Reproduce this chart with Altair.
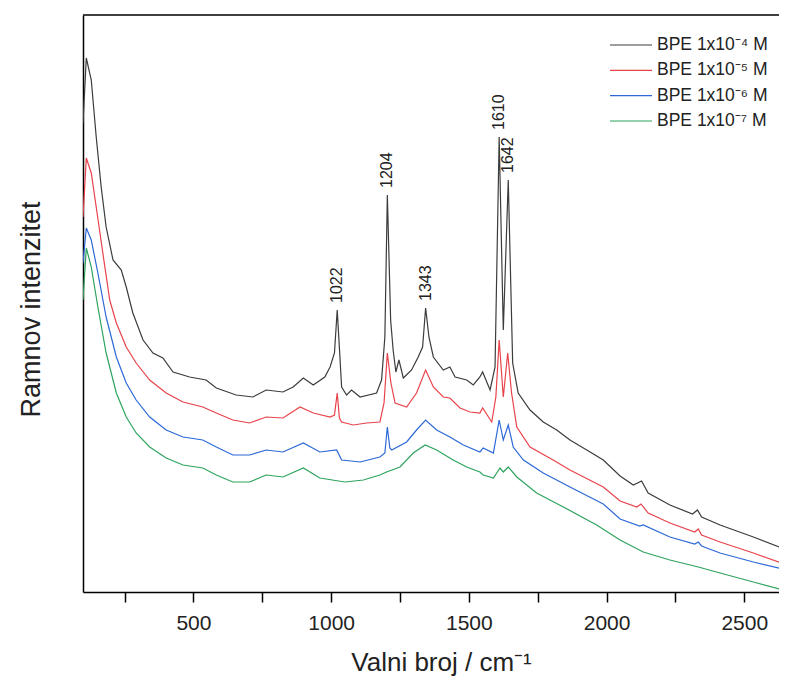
import altair as alt
import pandas as pd

FONT = "Liberation Sans, Arial, Helvetica, sans-serif"

series_names = ["BPE 1x10⁻⁴ M", "BPE 1x10⁻⁵ M", "BPE 1x10⁻⁶ M", "BPE 1x10⁻⁷ M"]
series_colors = ["#3c3c3c", "#e8434a", "#2c69d6", "#2ea35e"]

# wavenumber (cm^-1) and relative Raman intensity
black_wn = [99, 111, 129, 147, 165, 183, 208, 238, 256, 280, 317, 353, 389, 426, 486, 546, 583, 655,
            716, 764, 825, 862, 899, 935, 977, 996, 1012, 1022, 1031, 1038, 1056, 1074, 1105, 1165,
            1183, 1195, 1204, 1216, 1225, 1235, 1246, 1262, 1292, 1316, 1332, 1343, 1355, 1371, 1407,
            1431, 1450, 1492, 1516, 1540, 1550, 1577, 1595, 1610, 1625, 1643, 1659, 1679, 1722, 1770,
            1819, 1867, 1928, 1988, 2049, 2097, 2127, 2151, 2230, 2312, 2330, 2345, 2412, 2533, 2655]
black_I = [470, 535, 513, 456, 406, 366, 333, 323, 306, 280, 253, 240, 235, 221, 216, 213, 205, 198,
           196, 203, 201, 206, 215, 208, 216, 226, 240, 283, 240, 206, 198, 203, 196, 200,
           213, 256, 398, 273, 243, 221, 233, 215, 223, 236, 246, 285, 256, 236, 223,
           226, 216, 213, 208, 216, 221, 203, 226, 456, 263, 413, 230, 200, 183, 171,
           163, 153, 143, 133, 117, 108, 112, 100, 88, 79, 83, 76, 68, 56, 43]

red_wn = [99, 111, 129, 147, 171, 196, 220, 256, 292, 341, 401, 462, 534, 583, 643, 704, 764, 825,
          887, 935, 996, 1012, 1022, 1030, 1038, 1080, 1129, 1177, 1192, 1204, 1217, 1232, 1274, 1310,
          1343, 1371, 1407, 1431, 1468, 1504, 1540, 1550, 1583, 1598, 1610, 1625, 1641, 1655, 1674,
          1722, 1806, 1867, 1988, 2049, 2110, 2125, 2151, 2230, 2320, 2333, 2345, 2412, 2533, 2655]
red_I = [376, 435, 420, 386, 340, 293, 270, 246, 230, 213, 200, 191, 186, 180, 173, 170, 176, 175,
         186, 180, 176, 178, 200, 175, 171, 168, 170, 171, 190, 240, 210, 190, 186, 200,
         223, 206, 196, 195, 185, 181, 180, 185, 171, 196, 253, 196, 240, 200, 166,
         146, 133, 123, 106, 92, 86, 89, 80, 70, 61, 64, 58, 51, 40, 28]

blue_wn = [99, 111, 129, 153, 183, 220, 256, 292, 341, 401, 462, 534, 583, 643, 704, 764, 825, 899,
           959, 1020, 1038, 1105, 1177, 1195, 1204, 1213, 1220, 1274, 1310, 1343, 1383, 1431, 1480,
           1540, 1552, 1589, 1610, 1625, 1643, 1661, 1698, 1770, 1867, 1988, 2049, 2120, 2133, 2230,
           2320, 2333, 2345, 2412, 2533, 2655]
blue_I = [330, 365, 353, 320, 276, 236, 210, 193, 176, 163, 156, 153, 146, 138, 138, 143, 141, 150,
          141, 143, 133, 131, 136, 140, 166, 145, 143, 151, 163, 173, 163, 156, 148,
          141, 145, 140, 173, 153, 168, 146, 133, 120, 106, 89, 74, 67, 68, 56,
          49, 51, 47, 40, 31, 23]

green_wn = [99, 111, 129, 153, 183, 220, 256, 292, 341, 401, 462, 534, 583, 643, 704, 764, 825, 899,
            959, 1050, 1117, 1177, 1201, 1250, 1298, 1341, 1383, 1443, 1492, 1540, 1552, 1589, 1613,
            1625, 1643, 1674, 1746, 1843, 1964, 2049, 2133, 2230, 2333, 2412, 2533, 2655]
green_I = [293, 345, 326, 286, 240, 200, 176, 160, 146, 135, 128, 125, 118, 111, 111, 118, 116, 125,
           115, 111, 113, 118, 121, 126, 140, 148, 143, 133, 126, 121, 118, 115, 125,
           121, 126, 116, 100, 86, 68, 53, 41, 33, 26, 20, 11, 2]

peak_wn = [1022, 1204, 1343, 1610, 1642]
peak_I = [283, 398, 285, 456, 413]
peak_labels = ["1022", "1204", "1343", "1610", "1642"]

x_ticks = [250, 500, 750, 1000, 1250, 1500, 1750, 2000, 2250, 2500]

rows = []
for name, wn, inten in zip(series_names, [black_wn, red_wn, blue_wn, green_wn],
                           [black_I, red_I, blue_I, green_I]):
    for w, v in zip(wn, inten):
        rows.append({"series": name, "wn": w, "I": v})
df = pd.DataFrame(rows)

peaks = pd.DataFrame({"wn": peak_wn, "I": peak_I, "label": peak_labels})
leg = pd.DataFrame({"series": series_names})
frame = pd.DataFrame({"k": [0]})

W, H = 696, 577

x_scale = alt.Scale(domain=[99, 2626], nice=False, zero=False)
y_scale = alt.Scale(domain=[1, 578], nice=False, zero=False)
color_scale = alt.Scale(domain=series_names, range=series_colors)

x_axis = alt.Axis(
    values=x_ticks, format="d",
    labelExpr="datum.value % 500 === 0 ? datum.label : ''",
    tickSize=10, tickWidth=1.5, tickColor="black",
    domainColor="black", domainWidth=1.5, grid=False,
    labelFont=FONT, labelFontSize=21, labelColor="#222", labelPadding=10,
    title="Valni broj / cm⁻¹", titleFont=FONT, titleFontSize=26,
    titleFontWeight="normal", titleColor="#222", titlePadding=16, titleX=358)
y_axis = alt.Axis(
    labels=False, ticks=False, grid=False,
    domainColor="black", domainWidth=1.5,
    title="Ramnov intenzitet", titleFont=FONT, titleFontSize=27,
    titleFontWeight="normal", titleColor="#222", titlePadding=38, titleY=294)

x_enc = alt.X("wn:Q", scale=x_scale, axis=x_axis)

lines = alt.Chart(df).mark_line(strokeWidth=1.2, clip=True).encode(
    x=x_enc,
    y=alt.Y("I:Q", scale=y_scale, axis=y_axis),
    color=alt.Color("series:N", scale=color_scale, legend=None),
    order=alt.Order("wn:Q"),
)

peak_text = alt.Chart(peaks).mark_text(
    angle=270, align="left", baseline="middle", dx=7,
    font=FONT, fontSize=16, color="#222"
).encode(
    x=x_enc,
    y=alt.Y("I:Q", scale=y_scale, axis=None),
    text="label:N",
)

top_border = alt.Chart(frame).mark_rule(color="black", strokeWidth=1.5).encode(
    x=alt.value(0), x2=alt.value(W), y=alt.value(0)
)

leg_y = alt.Y("series:N", scale=alt.Scale(type="point", domain=series_names,
                                          range=[30, 106], padding=0), axis=None)

leg_rule = alt.Chart(leg).mark_rule(strokeWidth=1.2).encode(
    x=alt.value(527), x2=alt.value(569), y=leg_y,
    color=alt.Color("series:N", scale=color_scale, legend=None),
)

leg_text = alt.Chart(leg).mark_text(
    align="left", baseline="middle", font=FONT, fontSize=17.5, color="#222"
).encode(x=alt.value(574), y=leg_y, text="series:N")

chart = alt.layer(lines, peak_text, top_border, leg_rule, leg_text).resolve_scale(
    y="independent"
).properties(
    width=W, height=H,
    padding={"left": 75, "top": 7, "right": 0, "bottom": 84},
    autosize=alt.AutoSizeParams(type="none"),
).configure_view(stroke="transparent", strokeWidth=0)

chart.save("out.html", embed_options={"renderer": "svg", "actions": False})
